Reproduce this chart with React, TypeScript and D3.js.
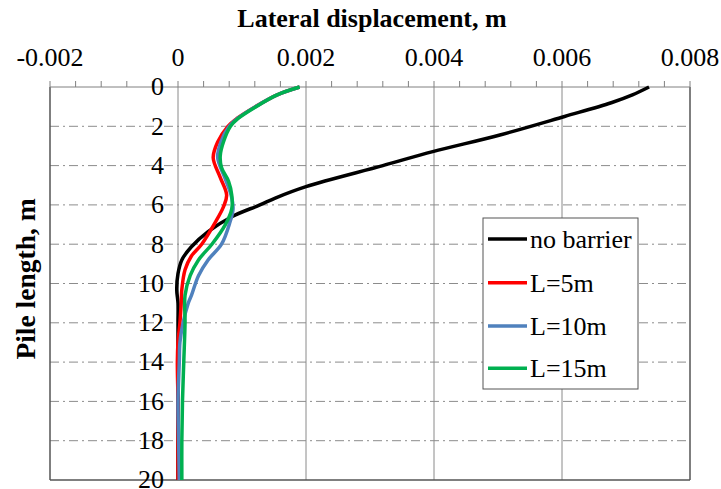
import React from "react";
import * as d3 from "d3";

// 軸の目盛り
const xTicks = [-0.002, 0, 0.002, 0.004, 0.006, 0.008];
const xTickLabels = ["-0.002", "0", "0.002", "0.004", "0.006", "0.008"];
const yTicks = [0, 2, 4, 6, 8, 10, 12, 14, 16, 18, 20];

// no barrier
const noBarrierDepth = [0, 0.4, 0.8, 1.5, 2.44, 3.29, 4, 5.07, 5.65, 6, 6.6, 7.36, 8.13, 8.8, 9.5, 10.3, 11, 12, 14, 16, 18, 20];
const noBarrierDisp = [0.00736, 0.0071, 0.00677, 0.00604, 0.00503, 0.00398, 0.0032, 0.002, 0.00152, 0.00128, 0.00084, 0.00047, 0.00021, 0.00006, 0.0, -0.00002, 0.0, 0.0, 0.0, 0.0, 0.0, 0.0];

// L=5m
const l5Depth = [0, 0.4, 1.0, 1.6, 2.0, 2.8, 3.6, 4.6, 5.5, 6.1, 6.9, 8.0, 8.6, 9.3, 10.3, 11, 12, 13, 14, 16, 18, 20];
const l5Disp = [0.0019, 0.00155, 0.00121, 0.00092, 0.00078, 0.00062, 0.00055, 0.00066, 0.00076, 0.00071, 0.00058, 0.00037, 0.00021, 0.00011, 0.00006, 0.00005, 0.00003, 0.0, -0.00001, 0.0, 0.0, 0.0];

// L=10m
const l10Depth = [0, 0.4, 1.0, 1.6, 2.0, 2.8, 3.6, 4.6, 5.5, 6.2, 6.9, 8.0, 8.8, 9.6, 10.6, 11, 12, 13, 14, 16, 18, 20];
const l10Disp = [0.0019, 0.00155, 0.00121, 0.00093, 0.0008, 0.00067, 0.00062, 0.00073, 0.00083, 0.00086, 0.00081, 0.00068, 0.00047, 0.00032, 0.00021, 0.00016, 0.00008, 0.00003, 0.00002, 0.0, 0.00001, 0.00002];

// L=15m
const l15Depth = [0, 0.4, 1.0, 1.6, 2.0, 2.8, 3.5, 4.1, 4.8, 5.5, 6.2, 7.0, 8.0, 8.8, 9.6, 10.6, 12, 14, 16, 18, 20];
const l15Disp = [0.0019, 0.00155, 0.00122, 0.00094, 0.00082, 0.00071, 0.00066, 0.00068, 0.00079, 0.00084, 0.00084, 0.00074, 0.00053, 0.00032, 0.00019, 0.00011, 0.00011, 0.00009, 0.00007, 0.00006, 0.00006];

const seriesNames = ["no barrier", "L=5m", "L=10m", "L=15m"];
const seriesColors = ["#000000", "#ff0000", "#4f81bd", "#00b050"];
const seriesDepths = [noBarrierDepth, l5Depth, l10Depth, l15Depth];
const seriesDisps = [noBarrierDisp, l5Disp, l10Disp, l15Disp];

export default function App() {
  const width = 721;
  const height = 489;
  const plot = { left: 50, right: 690, top: 87, bottom: 480 };
  const font = "'Liberation Serif', 'Times New Roman', serif";

  const xScale = d3.scaleLinear().domain([-0.002, 0.008]).range([plot.left, plot.right]);
  const yScale = d3.scaleLinear().domain([0, 20]).range([plot.top, plot.bottom]);

  // 補助目盛り
  const minorTicks = d3.range(-0.002, 0.0080001, 0.0004);

  const line = d3
    .line<[number, number]>()
    .x((d) => xScale(d[1]))
    .y((d) => yScale(d[0]))
    .curve(d3.curveCatmullRom.alpha(0.5));

  const legend = { x: 483, y: 218, w: 155, h: 171 };
  const legendRows = [239, 282.7, 326, 368.3];

  return (
    <svg width={width} height={height} style={{ position: "absolute", left: 0, top: 0 }}>
      <rect width={width} height={height} fill="white" />
      <defs>
        <clipPath id="plot-clip">
          <rect x={plot.left} y={plot.top - 4} width={plot.right - plot.left} height={plot.bottom - plot.top + 4} />
        </clipPath>
      </defs>

      {/* 横の補助線 (一点鎖線) */}
      {yTicks
        .filter((t) => t > 0 && t < 20)
        .map((t) => (
          <line
            key={t}
            x1={plot.left}
            x2={plot.right}
            y1={yScale(t)}
            y2={yScale(t)}
            stroke="#8c8c8c"
            strokeWidth={1}
            strokeDasharray="9,4,2,4"
          />
        ))}

      {/* 縦の補助線 */}
      {xTicks
        .filter((t) => t > -0.002 && t < 0.008)
        .map((t) => (
          <line key={t} x1={xScale(t)} x2={xScale(t)} y1={plot.top} y2={plot.bottom} stroke="#8a8a8a" strokeWidth={1} />
        ))}

      {/* 枠 */}
      <line x1={plot.left} x2={plot.left} y1={plot.top} y2={plot.bottom} stroke="#555" strokeWidth={1.5} />
      <line x1={plot.right} x2={plot.right} y1={plot.top} y2={plot.bottom} stroke="#555" strokeWidth={1.5} />
      <line x1={plot.left} x2={plot.right} y1={plot.bottom} y2={plot.bottom} stroke="#555" strokeWidth={1.5} />

      {/* 上の軸 */}
      <line x1={plot.left} x2={plot.right} y1={plot.top} y2={plot.top} stroke="#808080" strokeWidth={1} />
      {minorTicks.map((t, i) => (
        <line key={i} x1={xScale(t)} x2={xScale(t)} y1={plot.top - 6} y2={plot.top} stroke="#808080" strokeWidth={1} />
      ))}
      {xTicks.map((t, i) => (
        <text key={t} x={xScale(t)} y={66} textAnchor="middle" fontFamily={font} fontSize={26} fill="#000">
          {xTickLabels[i]}
        </text>
      ))}
      <text x={372} y={27} textAnchor="middle" fontFamily={font} fontSize={26} fontWeight="bold">
        Lateral displacement, m
      </text>

      {/* 曲線 */}
      <g clipPath="url(#plot-clip)">
        {seriesNames.map((name, i) => (
          <path
            key={name}
            d={line(seriesDepths[i].map((dep, j) => [dep, seriesDisps[i][j]] as [number, number])) ?? ""}
            fill="none"
            stroke={seriesColors[i]}
            strokeWidth={3.5}
            strokeLinejoin="round"
          />
        ))}
      </g>

      {/* y軸の目盛りラベル */}
      {yTicks.map((t) => (
        <text key={t} x={xScale(0) - 14} y={yScale(t)} dy="0.32em" textAnchor="end" fontFamily={font} fontSize={26}>
          {t}
        </text>
      ))}
      <text
        transform={`translate(35, 279) rotate(-90)`}
        textAnchor="middle"
        fontFamily={font}
        fontSize={27.5}
        fontWeight="bold"
      >
        Pile length, m
      </text>

      {/* 凡例 */}
      <rect x={legend.x} y={legend.y} width={legend.w} height={legend.h} fill="white" stroke="#555" strokeWidth={1} />
      {seriesNames.map((name, i) => (
        <g key={name} transform={`translate(${legend.x + 5}, ${legendRows[i]})`}>
          <line x1={0} x2={39} y1={0} y2={0} stroke={seriesColors[i]} strokeWidth={3.5} />
          <text x={42} y={0} dy="0.35em" fontFamily={font} fontSize={26}>
            {name}
          </text>
        </g>
      ))}
    </svg>
  );
}
